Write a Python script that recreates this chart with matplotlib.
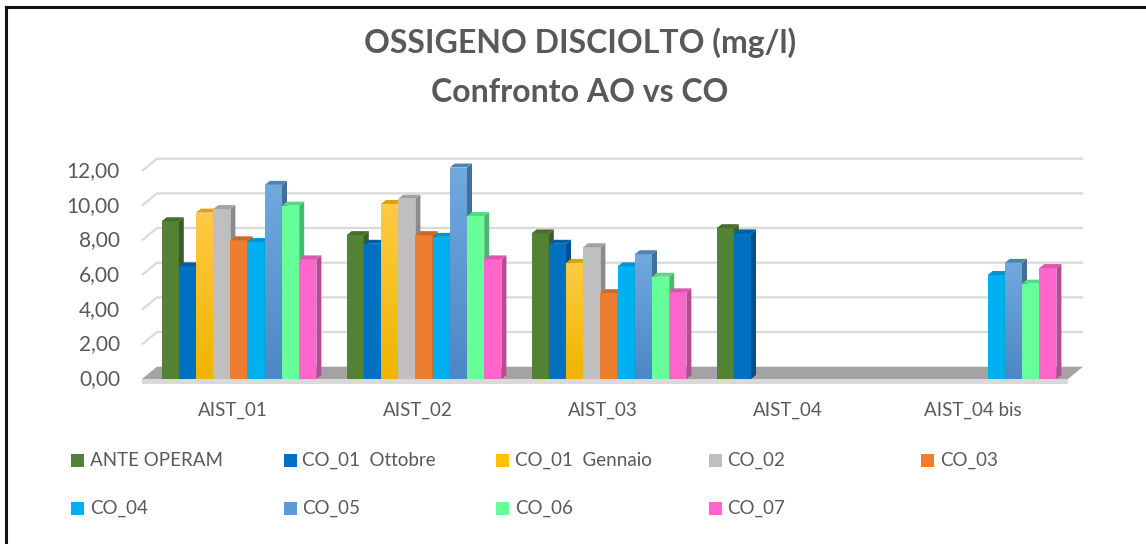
import matplotlib
matplotlib.use("Agg")
import matplotlib.pyplot as plt
import matplotlib.colors as mcolors
import numpy as np
from matplotlib.patches import Polygon, Rectangle
from matplotlib.lines import Line2D

# dati (mg/l)
stations = ["AIST_01", "AIST_02", "AIST_03", "AIST_04", "AIST_04 bis"]
series_names = ["ANTE OPERAM", "CO_01  Ottobre", "CO_01  Gennaio", "CO_02", "CO_03",
                "CO_04", "CO_05", "CO_06", "CO_07"]
nan = np.nan
ante_operam = [9.1, 8.3, 8.4, 8.7, nan]
co01_ottobre = [6.5, 7.8, 7.8, 8.4, nan]
co01_gennaio = [9.6, 10.1, 6.7, nan, nan]
co02 = [9.8, 10.4, 7.6, nan, nan]
co03 = [8.0, 8.3, 4.95, nan, nan]
co04 = [7.9, 8.2, 6.5, nan, 6.0]
co05 = [11.2, 12.2, 7.2, nan, 6.7]
co06 = [10.0, 9.4, 5.9, nan, 5.5]
co07 = [6.9, 6.9, 5.0, nan, 6.4]
y_ticks = [0, 2, 4, 6, 8, 10, 12]

series_values = [ante_operam, co01_ottobre, co01_gennaio, co02, co03, co04, co05, co06, co07]
series_colors = ["#548235", "#0070C0", "#FFC000", "#BFBFBF", "#ED7D31",
                 "#00B0F0", "#5B9BD5", "#66FF99", "#FF66CC"]
# serie con sfumatura verticale (colore alto, colore basso)
gradients = {2: ("#FFCA45", "#EFB500"), 6: ("#70A9DE", "#4C88C6")}

TEXT = "#595959"
GRID = "#D9D9D9"

plt.rcParams["font.family"] = ["Lato", "DejaVu Sans"]

# --- layout in pixel ---
W, H, DPI = 1146, 544, 100
ppu = (379 - 171) / 12.0          # pixel per unità
y0_px = 379                       # y=0 (fronte)
ylo, yhi = -0.3, 12.9
step = 185.0                      # distanza fra stazioni
c0_px = 239                       # centro prima stazione
ax_l, ax_r = 140, 1085

bottom_px = y0_px - ylo * ppu
top_px = y0_px - yhi * ppu

fig = plt.figure(figsize=(W / DPI, H / DPI), dpi=DPI)
ax = fig.add_axes([ax_l / W, (H - bottom_px) / H, (ax_r - ax_l) / W, (bottom_px - top_px) / H])
xlim = ((ax_l - c0_px) / step, (ax_r - c0_px) / step)
ax.axis("off")

# profondità 3D (unità dati)
gdx, gdy = 15 / step, 12.3 / ppu      # pareti / griglia
bdx, bdy = 5 / step, 4 / ppu          # barre
x_front_l = (142 - c0_px) / step
x_front_r = (1068 - c0_px) / step

# griglia: tratto obliquo a sinistra + linea sulla parete di fondo
for t in y_ticks:
    if t > 0:
        ax.plot([x_front_l, x_front_l + gdx, x_front_r + gdx], [t, t + gdy, t + gdy],
                color=GRID, lw=1.6, zorder=1, solid_capstyle="butt")
    ax.text(x_front_l - 22 / step, t, f"{t:.2f}".replace(".", ","), ha="right", va="center",
            fontsize=15, color=TEXT)

# pavimento
ax.add_patch(Polygon([(x_front_l, 0), (x_front_r, 0), (x_front_r + gdx, gdy), (x_front_l + gdx, gdy)],
                     closed=True, facecolor="#A3A3A3", edgecolor="none", zorder=1.5))
ax.add_patch(Polygon([(x_front_l, -0.3), (x_front_r, -0.3), (x_front_r, 0), (x_front_l, 0)],
                     closed=True, facecolor="#D9D9D9", edgecolor="none", zorder=1.5))


def shade(color, f):
    r, g, b = mcolors.to_rgb(color)
    return (r * f, g * f, b * f)


n = len(series_values)
bw = 17.2 / step
x = np.arange(len(stations))
for k, (vals, col) in enumerate(zip(series_values, series_colors)):
    z = 3 + k * 0.01
    xs = x - n * bw / 2 + k * bw
    v = np.array(vals, dtype=float)
    bars = ax.bar(xs, v, width=bw, align="edge", color=col, edgecolor="none", zorder=z)
    for bar, xi, vi in zip(bars, xs, v):
        if np.isnan(vi):
            continue
        if k in gradients:
            c_top, c_bot = gradients[k]
            cmap = mcolors.LinearSegmentedColormap.from_list("g", [c_bot, c_top])
            im = ax.imshow(np.linspace(1, 0, 64).reshape(-1, 1), cmap=cmap, aspect="auto",
                           extent=[xi, xi + bw, 0, vi], zorder=z, interpolation="bilinear")
            im.set_clip_path(bar)
        side = [(xi + bw, 0), (xi + bw + bdx, bdy), (xi + bw + bdx, vi + bdy), (xi + bw, vi)]
        top = [(xi, vi), (xi + bw, vi), (xi + bw + bdx, vi + bdy), (xi + bdx, vi + bdy)]
        ax.add_patch(Polygon(side, closed=True, facecolor=shade(col, 0.72), edgecolor="none", zorder=z))
        ax.add_patch(Polygon(top, closed=True, facecolor=shade(col, 0.85), edgecolor="none", zorder=z))

ax.set_xlim(*xlim)
ax.set_ylim(ylo, yhi)

# etichette stazioni
for xi, name in zip(x, stations):
    ax.text(xi - 6 / step, -31 / ppu, name, ha="center", va="center", fontsize=13.5, color=TEXT)

# titolo
fig.text(580 / W, 1 - 43 / H, "OSSIGENO DISCIOLTO (mg/l)", ha="center", va="center",
         fontsize=23, fontweight="bold", color=TEXT)
fig.text(580 / W, 1 - 92 / H, "Confronto AO vs CO", ha="center", va="center",
         fontsize=23, fontweight="bold", color=TEXT)

# legenda (5 colonne, 2 righe)
for i, (name, col) in enumerate(zip(series_names, series_colors)):
    row, c = divmod(i, 5)
    lx = 71 + 212.5 * c
    ly = 460 + 48 * row
    fig.patches.append(Rectangle((lx / W, 1 - (ly + 6.5) / H), 13 / W, 13 / H,
                                 transform=fig.transFigure, facecolor=col, edgecolor="none"))
    fig.text((lx + 19) / W, 1 - ly / H, name, ha="left", va="center", fontsize=13.5, color=TEXT)

# cornice
fig.add_artist(Line2D([6 / W, 1], [1 - 6.5 / H, 1 - 6.5 / H], transform=fig.transFigure,
                      color="#111111", lw=2.2))
fig.add_artist(Line2D([6 / W, 6 / W], [0, 1 - 6.5 / H], transform=fig.transFigure,
                      color="#111111", lw=2.2))

fig.savefig("out.png", dpi=DPI)
